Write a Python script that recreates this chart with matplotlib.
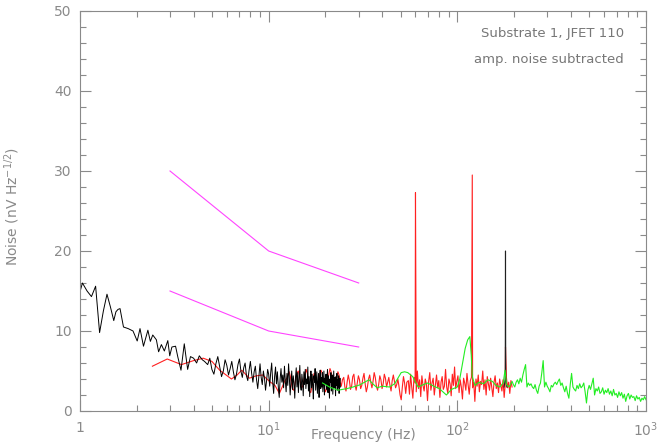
import numpy as np
import matplotlib
matplotlib.use("Agg")
import matplotlib.pyplot as plt
from matplotlib.ticker import FixedLocator, NullFormatter, MultipleLocator

# ---------------- data ----------------
# black: low-frequency vertices
black_lo_freq = [1.00, 1.03, 1.09, 1.15, 1.21, 1.27, 1.33, 1.39, 1.45, 1.51, 1.55, 1.59, 1.63,
                 1.70, 1.80, 1.91, 2.01, 2.08, 2.17, 2.29, 2.36, 2.43, 2.54, 2.61, 2.70, 2.80,
                 2.92, 2.99, 3.07, 3.21, 3.30, 3.43, 3.57, 3.72, 3.85, 4.00, 4.15, 4.29, 4.45, 4.57]
black_lo_val = [14.9, 16.0, 15.0, 14.3, 15.6, 9.8, 12.5, 14.6, 13.0, 11.3, 12.4, 12.7, 12.8,
                10.5, 10.3, 10.0, 8.75, 10.3, 8.1, 10.1, 8.7, 9.5, 8.9, 7.4, 8.3, 7.5,
                8.8, 6.9, 8.0, 8.1, 6.75, 5.1, 8.4, 5.2, 6.8, 6.6, 6.0, 6.9, 6.4, 6.2]
# black: dense part 4.75 - 24 Hz
black_hi_range = (4.75, 24.0)
black_hi_val = [5.8, 6.6, 5.2, 4.6, 5.9, 6.8, 5.5, 4.3, 5.0, 6.4, 5.7, 4.5, 5.3, 6.2, 4.9, 3.9,
                4.6, 5.8, 6.5, 5.0, 4.2, 5.4, 6.0, 4.4, 3.8, 5.1,
                6.2, 4.7, 3.6, 4.9, 5.6, 3.9, 2.8, 4.4, 5.9, 4.2, 3.3, 5.0, 4.1, 2.6, 3.8, 5.2,
                4.6, 3.1, 4.8, 6.0, 3.7, 2.2, 4.3, 5.5, 3.4, 4.9, 3.0, 1.7, 4.0, 5.3, 3.6, 4.5,
                2.9, 5.6, 3.8, 2.4, 4.7, 3.2, 5.9, 4.1, 2.0, 3.6, 5.0, 2.7, 4.4, 3.5, 1.6, 4.2,
                5.4, 3.0, 4.8, 2.3, 3.9, 5.7, 3.1, 2.6, 4.6, 3.7, 1.9, 4.9, 3.3, 5.2, 2.8, 4.0,
                3.4, 5.5, 2.5, 4.3, 1.8, 3.9, 5.0, 2.9, 4.6, 3.2, 1.5, 4.4, 3.6, 5.3, 2.6, 3.8,
                4.9, 2.2, 3.5, 4.7, 1.7, 3.9, 5.1, 2.8, 4.2, 3.0, 4.8, 2.4, 3.7, 5.0, 2.0, 4.1,
                3.3, 4.6, 2.7, 3.9, 5.2, 2.3, 4.4, 3.1, 1.6, 4.0, 3.6, 4.8, 2.5, 3.8, 4.5, 2.1,
                3.4, 5.0, 2.9, 4.2, 3.5, 1.9, 4.3, 3.2, 4.7, 2.6, 3.9, 3.0, 4.4, 2.2, 3.7, 4.1, 3.0]
black_spike_freq = [177.0, 179.5, 180.0, 180.5, 183.0]
black_spike_val = [3.0, 4.0, 20.0, 4.0, 3.0]

# red: smooth low part
red_lo_freq = [2.42, 2.9, 3.45, 4.0, 4.5, 5.0, 5.5, 6.35, 6.8, 7.2, 7.9, 8.6, 9.3, 10.1, 10.8, 11.4, 12.2]
red_lo_val = [5.6, 6.5, 5.8, 6.3, 6.6, 6.2, 5.1, 4.0, 4.5, 5.1, 4.1, 4.4, 4.5, 3.7, 3.2, 2.2, 3.8]
red_mid_range = (12.5, 24.6)
red_mid_val = [4.1, 4.6, 4.9, 4.3, 3.4, 2.7, 2.6, 3.3, 4.2, 4.8, 5.0, 4.4, 3.5, 2.9, 3.1, 3.9,
               4.6, 5.2, 4.7, 3.6, 2.5, 2.3, 3.0, 4.0, 4.7, 4.4, 3.7, 3.2, 3.6, 4.5, 5.1, 4.8,
               3.9, 2.9, 2.4, 2.8, 3.8, 4.6, 5.3, 4.9, 4.0, 3.3, 3.0, 3.5, 4.3, 4.9, 4.5, 3.6,
               3.1, 3.9]
red_mid2_range = (25.0, 54.0)
red_mid2_val = [4.2, 3.0, 2.5, 3.6, 4.5, 3.8, 2.7, 3.1, 4.3, 4.6, 3.3, 2.6, 3.5, 4.4, 3.9, 2.8,
                3.2, 4.1, 4.7, 3.4, 2.4, 3.0, 4.0, 4.5, 3.6, 2.9, 3.7, 4.8, 4.2, 3.1, 2.6, 3.3,
                4.4, 3.9, 2.8, 3.4, 4.6, 4.1, 3.0, 3.6, 4.2, 3.2, 2.5, 3.8, 4.5, 3.7, 2.9, 3.3,
                4.0, 3.1, 2.0, 1.4, 3.0, 4.3, 3.5, 2.2, 3.6]
red_hi_range = (55.0, 195.0)
red_hi_val = [3.8, 2.1, 4.6, 3.0, 1.6, 4.2, 3.5, 2.4, 5.0, 2.8,
              3.9, 1.8, 4.4, 3.2, 2.5, 4.0, 3.4, 1.3, 3.7, 4.8,
              2.6, 3.5, 4.1, 2.0, 3.3, 4.5, 2.9, 3.8, 1.7, 3.6,
              4.3, 2.7, 3.1, 5.2, 3.0, 2.2, 4.0, 3.4, 1.9, 4.6,
              3.2, 5.5, 2.8, 3.7, 4.4, 2.3, 3.9, 3.0, 1.5, 4.1,
              3.5, 2.6, 4.7, 3.3, 2.1, 3.8, 4.2, 2.9, 3.6, 1.2,
              4.0, 3.1, 4.5, 2.4, 3.7, 3.3, 5.0, 2.7, 3.9, 2.0,
              4.3, 3.4, 2.6, 4.1, 3.0, 1.8, 3.6, 4.4, 2.8, 3.5,
              2.3, 4.0, 3.2, 2.5, 3.9, 1.7, 3.4, 4.2, 2.9, 3.6,
              2.2, 3.8, 3.0]
red_spike_freq = [60.0, 120.0, 180.0]
red_spike_val = [27.3, 29.5, 8.0]

# green
green_lo_freq = [19.3, 21, 23.3, 26, 28, 30.3, 34, 36, 37.6, 40, 43.6, 46.5, 50.4, 52.5, 54.6,
                 58, 60, 62, 66, 69.6, 75, 80.3, 87.5, 93, 100, 103, 106.6, 110, 113.5, 116.5,
                 118.5, 120, 124, 130, 138, 145, 153.5, 160, 168, 175, 179, 182, 188]
green_lo_val = [3.5, 3.0, 2.6, 2.8, 3.0, 3.25, 3.9, 3.3, 2.9, 3.1, 3.0, 3.4, 4.8, 4.9, 4.8,
                4.3, 3.6, 3.0, 3.3, 3.5, 3.1, 2.8, 2.0, 2.7, 3.0, 4.0, 6.0, 7.8, 8.9, 9.3,
                7.0, 4.3, 3.2, 3.6, 3.4, 3.9, 3.7, 3.2, 3.0, 3.5, 5.1, 3.3, 3.0]
green_hi_range = (195.0, 1000.0)
green_hi_val = [3.7, 3.3, 3.0, 3.6, 3.9, 3.4, 4.1, 3.6, 4.5, 5.2,
                5.8, 3.0, 3.5, 3.2, 3.4, 3.0, 2.8, 3.3, 2.6, 2.2,
                3.1, 3.5, 4.8, 6.3, 3.0, 3.6, 3.1, 2.8, 2.4, 3.2,
                3.0, 3.4, 3.6, 3.3, 3.7, 4.0, 3.2, 3.5, 2.9, 2.4,
                3.1, 2.2, 1.6, 3.3, 4.7, 3.0, 2.7, 2.5, 3.2, 2.8,
                3.4, 2.9, 3.1, 3.5, 2.4, 1.0, 2.6, 3.2, 2.7, 3.4,
                4.1, 2.0, 2.8, 2.5, 3.0, 2.2, 2.4, 2.9, 2.1, 2.6,
                2.3, 2.8, 2.1, 2.5, 1.9, 2.7, 2.0, 2.2, 1.7, 2.4,
                1.9, 2.3, 1.6, 2.1, 1.2, 1.9, 2.2, 1.5, 2.0, 1.7,
                1.8, 1.3, 1.9, 1.5, 1.7, 1.2, 1.6, 1.4, 1.8, 1.4]

# magenta reference lines
mag_freq = [3, 10, 30]
mag_upper = [30, 20, 16]
mag_lower = [15, 10, 8]

x_major = [1, 10, 100, 1000]
x_major_labels = ["1", "$10^{1}$", "$10^{2}$", "$10^{3}$"]
y_major = [0, 10, 20, 30, 40, 50]

# ---------------- build series ----------------
def grid(rng, vals):
    return np.geomspace(rng[0], rng[1], len(vals))

black_f = np.concatenate([black_lo_freq, np.linspace(black_hi_range[0], black_hi_range[1], len(black_hi_val))])
black_v = np.concatenate([black_lo_val, black_hi_val])

red_f = np.concatenate([red_lo_freq, grid(red_mid_range, red_mid_val),
                        grid(red_mid2_range, red_mid2_val), grid(red_hi_range, red_hi_val),
                        red_spike_freq])
red_v = np.concatenate([red_lo_val, red_mid_val, red_mid2_val, red_hi_val, red_spike_val])
o = np.argsort(red_f)
red_f, red_v = red_f[o], red_v[o]

green_f = np.concatenate([green_lo_freq, grid(green_hi_range, green_hi_val)])
green_v = np.concatenate([green_lo_val, green_hi_val])

# ---------------- plot ----------------
W, H = 658, 443
fig = plt.figure(figsize=(W / 100, H / 100), dpi=100)
L, R, T, B = 80, 646, 11, 411
ax = fig.add_axes([L / W, (H - B) / H, (R - L) / W, (B - T) / H])

gray = "#8a8a8a"
lw = 0.8
ax.plot(mag_freq, mag_upper, color="#ff44ff", lw=lw)
ax.plot(mag_freq, mag_lower, color="#ff44ff", lw=lw)
ax.plot(red_f, red_v, color="#ff2020", lw=lw)
ax.plot(black_f, black_v, color="black", lw=0.7)
ax.plot(black_spike_freq, black_spike_val, color="#202020", lw=lw)
ax.plot(green_f, green_v, color="#22ee22", lw=lw)

ax.set_xscale("log")
ax.set_xlim(1, 1000)
ax.set_ylim(0, 50)
ax.xaxis.set_major_locator(FixedLocator(x_major))
ax.set_xticklabels(x_major_labels)
minors = [m * d for d in (1, 10, 100) for m in range(2, 10)]
ax.xaxis.set_minor_locator(FixedLocator(minors))
ax.xaxis.set_minor_formatter(NullFormatter())
ax.yaxis.set_major_locator(FixedLocator(y_major))
ax.yaxis.set_minor_locator(MultipleLocator(2))

for s in ax.spines.values():
    s.set_color(gray)
    s.set_linewidth(0.8)
ax.tick_params(which="both", direction="in", top=True, right=True, color=gray,
               labelcolor=gray, width=0.8, labelsize=10)
ax.tick_params(which="major", length=8)
ax.tick_params(which="minor", length=4.5)
ax.tick_params(axis="x", which="major", pad=7)
ax.tick_params(axis="y", which="major", pad=6)

fig.text((L + R) / 2 / W, 0.5 / H, "Frequency (Hz)", ha="center", va="bottom",
         color=gray, fontsize=10)
fig.text(12 / W, 1 - 207 / H, "Noise (nV Hz$^{-1/2}$)", ha="center", va="center",
         rotation=90, color=gray, fontsize=10)

ax.text(0.961, 0.9425, "Substrate 1, JFET 110", transform=ax.transAxes, ha="right",
        va="center", color="#777777", fontsize=9.5)
ax.text(0.961, 0.88, "amp. noise subtracted", transform=ax.transAxes, ha="right",
        va="center", color="#777777", fontsize=9.5)

fig.savefig("out.png", dpi=100)
